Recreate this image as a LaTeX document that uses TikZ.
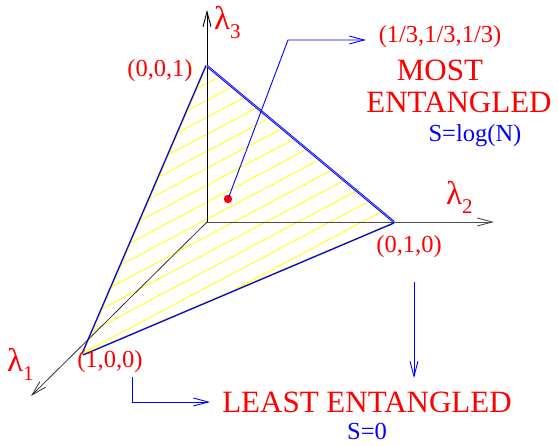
\documentclass[tikz,border=0pt]{standalone}
\usepackage{fontspec}
\setmainfont{Liberation Serif}
\newfontfamily\tnr{Liberation Serif}
\usetikzlibrary{arrows.meta}
\definecolor{xred}{RGB}{255,0,0}
\definecolor{xblue}{RGB}{0,0,255}
\definecolor{xyellow}{RGB}{255,255,0}
\tikzset{
  stick/.style={-{Straight Barb[length=15pt,width=8pt]}},
  axisline/.style={line width=0.9pt},
  blueline/.style={draw=xblue,line width=0.9pt},
  edgeline/.style={draw=xblue,line width=1.3pt},
  hatch/.style={draw=xyellow,line width=0.8pt},
  lab/.style={text=xred,inner sep=0pt,anchor=base,font=\tnr\fontsize{24.5}{26}\selectfont},
  big/.style={text=xred,inner sep=0pt,anchor=base,font=\tnr\fontsize{31}{33}\selectfont},
  ent/.style={text=xblue,inner sep=0pt,anchor=base,font=\tnr\fontsize{24.5}{26}\selectfont},
  lam/.style={text=xred,inner sep=0pt,anchor=base west,font=\tnr\fontsize{33}{35}\selectfont},
}
\newcommand{\lsub}[1]{\raisebox{-9pt}{\tnr\fontsize{21}{22}\selectfont #1}}
\begin{document}
\begin{tikzpicture}[x=1pt,y=-1pt]
\useasboundingbox (0,0) rectangle (558,446);
% vertices
\coordinate (O) at (207,222);
\coordinate (A1) at (83,354);
\coordinate (A2) at (394,222);
\coordinate (A3) at (207,66);
\coordinate (X1) at (31,396);
\coordinate (X2) at (494,222);
\coordinate (X3) at (207,10);
% hatching
\begin{scope}
\clip (A1) -- (A2) -- (A3) -- cycle;
\foreach \c in {-410,-393,...,700}
  \draw[hatch] (0,\c+110) -- (558,\c-186);
\end{scope}
\draw[hatch] (A1) -- (A2) -- (A3) -- cycle;
% axes
\draw[axisline,black!70,stick] (O) -- (X2);
\draw[axisline,black,stick] (O) -- (X3);
\draw[line width=0.8pt,black!80,stick] (O) -- (X1);
% triangle edges
\draw[edgeline] ([shift={(-1,-0.4)}]A3) -- ([shift={(-1,-0.4)}]A1);
\draw[edgeline] ([shift={(0,1)}]A1) -- ([shift={(0,1)}]A2);
\draw[draw=xblue,line width=0.8pt,double=xblue!45,double distance=0.6pt] (A3) -- (A2);
% centre point
\fill[xred] (228,199) circle (4.2);
\coordinate (P) at (228,199);
\coordinate (B1) at (288,40);
\coordinate (T1) at (366,40);
\draw[blueline,stick] (P) -- (B1) -- (T1);
% lower arrows
\coordinate (L0) at (132,377);
\coordinate (L1) at (132,402);
\coordinate (L2) at (210,402);
\draw[blueline,stick] (L0) -- (L1) -- (L2);
\coordinate (V0) at (414,282);
\coordinate (V1) at (414,378);
\draw[blueline,stick] (V0) -- (V1);
% labels
\node[lab] (l001) at (160,77) {(0,0,1)};
\node[lab] (l010) at (409,253) {(0,1,0)};
\node[lab] (l100) at (110,368) {(1,0,0)};
\node[lab] (lc) at (440,43) {(1/3,1/3,1/3)};
\node[big] (most) at (440,81) {MOST};
\node[big] (ent) at (459,113) {ENTANGLED};
\node[ent] (slog) at (475,142) {S=log(N)};
\node[big] (least) at (367,413) {LEAST ENTANGLED};
\node[ent] (s0) at (367,440) {S=0};
\node[lam] (lam3) at (214,30) {λ\lsub{3}};
\node[lam] (lam2) at (446,205) {λ\lsub{2}};
\node[lam] (lam1) at (7,372) {λ\lsub{1}};
\end{tikzpicture}
\end{document}
